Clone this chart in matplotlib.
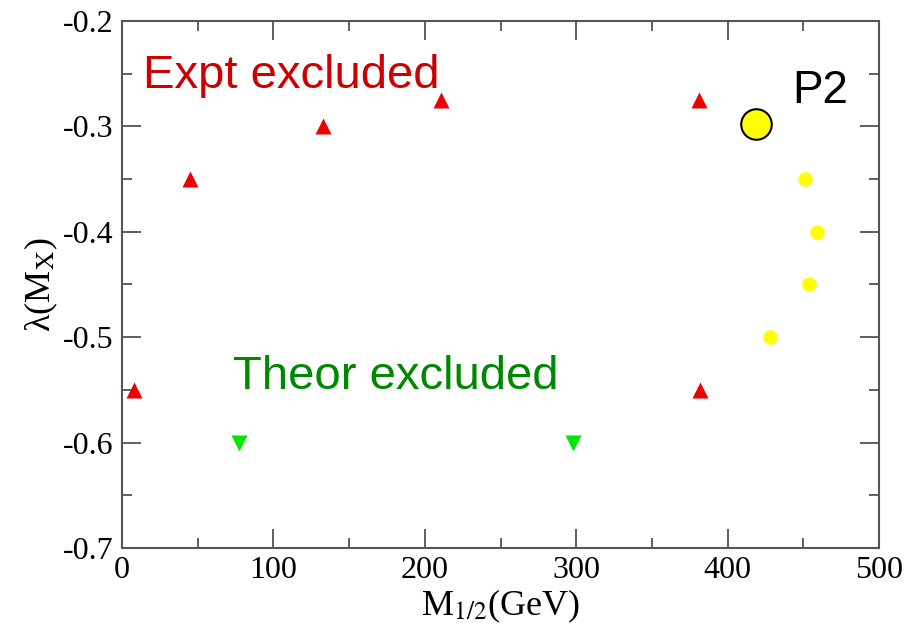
import matplotlib
matplotlib.use("Agg")
import matplotlib.pyplot as plt
from matplotlib.ticker import MultipleLocator

plt.rcParams['mathtext.fontset'] = 'stix'
plt.rcParams['font.family'] = 'Liberation Serif'

# excluded by experiment
expt_x = [8, 45, 133, 211, 381, 382]
expt_y = [-0.55, -0.35, -0.30, -0.275, -0.275, -0.55]
# excluded by theory
theor_x = [77, 298]
theor_y = [-0.60, -0.60]
# allowed points
ok_x = [451, 459, 454, 428]
ok_y = [-0.35, -0.40, -0.45, -0.50]
# benchmark point P2
p2_x, p2_y = 419, -0.2975

fig = plt.figure(figsize=(9.06, 6.30), dpi=100)
ax = fig.add_axes([0.1347, 0.1302, 0.8355, 0.8365])

ax.plot(expt_x, expt_y, '^', color='#ee0000', ms=11, mec='none', ls='none')
ax.plot(theor_x, theor_y, 'v', color='#00e600', ms=11, mec='none', ls='none')
ax.plot(ok_x, ok_y, 'o', color='#ffff00', ms=10.5, mec='none', ls='none')
ax.plot([p2_x], [p2_y], 'o', color='#ffff00', ms=22, mec='black', mew=1.5, ls='none')

ax.text(14, -0.252, 'Expt excluded', color='#cc0000', fontsize=34,
        family='Liberation Sans', va='center', ha='left')
ax.text(73, -0.538, 'Theor excluded', color='#008800', fontsize=34,
        family='Liberation Sans', va='center', ha='left')
ax.text(443, -0.266, 'P2', color='black', fontsize=33,
        family='Liberation Sans', va='center', ha='left')

ax.set_xlim(0, 500)
ax.set_ylim(-0.7, -0.2)
ax.xaxis.set_major_locator(MultipleLocator(100))
ax.xaxis.set_minor_locator(MultipleLocator(50))
ax.yaxis.set_major_locator(MultipleLocator(0.1))
ax.yaxis.set_minor_locator(MultipleLocator(0.05))
ax.set_yticklabels([f'{v:.1f}' for v in ax.get_yticks()])

ax.tick_params(which='both', direction='in', top=True, right=True,
               colors='#444444', labelcolor='black', labelsize=23, width=1.2)
ax.tick_params(which='major', length=14, pad=6)
ax.tick_params(which='minor', length=7)
for s in ax.spines.values():
    s.set_color('#555555')
    s.set_linewidth(1.5)

ax.set_xlabel('M$_{1/2}$(GeV)', fontsize=26, labelpad=2)
ax.set_ylabel('\u03bb(M$_{\\rm X}$)', fontsize=26, labelpad=2)

fig.savefig('out.png', dpi=100)
